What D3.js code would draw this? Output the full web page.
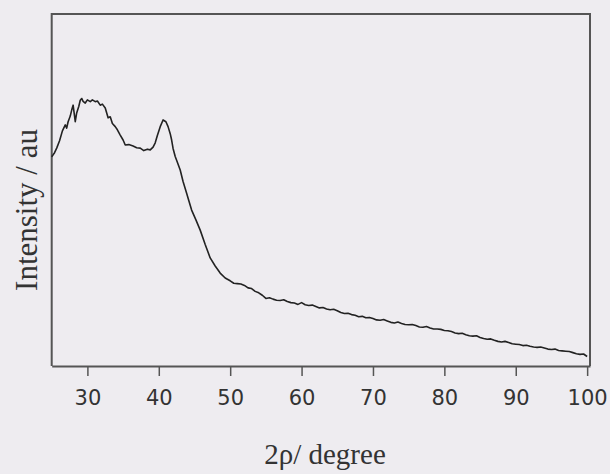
<!DOCTYPE html>
<html><head><meta charset="utf-8">
<script src="https://cdn.jsdelivr.net/npm/d3@7"></script>
<style>
html,body{margin:0;padding:0;background:#eeecf0;}
svg{display:block;}
</style></head>
<body>
<svg id="chart" width="610" height="474"></svg>
<script>
// 2θ (degree) values and intensity (arbitrary units)
const twoTheta = [25.0,25.4,25.7,26.1,26.5,26.9,27.1,27.3,27.6,27.8,28.0,28.3,28.5,28.8,29.0,29.2,29.4,29.7,30.0,30.4,30.7,31.1,31.4,31.8,32.1,32.5,32.9,33.2,33.5,33.9,34.2,34.6,35.0,35.3,35.8,36.4,36.9,37.4,37.9,38.4,38.8,39.2,39.5,39.8,40.2,40.6,41.0,41.3,41.6,41.8,42.0,42.3,42.6,43.0,43.4,43.9,44.2,44.6,45.2,45.8,46.5,47.2,47.9,48.6,49.3,
  50,50.5,51,51.5,52,52.5,53,53.5,54,54.5,55,55.5,56,56.5,57,57.5,58,58.5,59,59.5,60,60.5,61,61.5,62,62.5,63,63.5,64,64.5,65,65.5,66,66.5,67,67.5,68,68.5,69,69.5,70,70.5,71,71.5,72,72.5,73,73.5,74,74.5,75,75.5,76,76.5,77,77.5,78,78.5,79,79.5,80,80.5,81,81.5,82,82.5,83,83.5,84,84.5,85,85.5,86,86.5,87,87.5,88,88.5,89,89.5,90,90.5,91,91.5,92,92.5,93,93.5,94,94.5,95,95.5,96,96.5,97,97.5,98,98.5,99,99.5,100];
const intensity = [59.4,60.6,61.9,64.0,66.8,68.5,67.6,69.4,71.0,72.7,74.1,69.4,71.9,73.8,75.5,76.0,75.2,74.7,75.6,75.1,75.6,75.1,75.3,74.1,74.4,73.3,70.5,70.8,68.9,68.0,67.1,65.6,64.2,62.8,62.9,62.5,62.0,61.9,61.2,61.6,61.4,62.2,63.4,65.5,68.0,69.9,69.4,68.0,66.0,64.2,61.8,59.5,57.9,55.7,52.4,49.1,47.0,44.3,41.5,38.6,34.5,30.7,28.4,26.4,25.0,
  24.2,23.5,23.4,23.3,22.9,22.2,22.0,21.2,20.8,20.1,19.2,19.4,19.0,18.7,18.6,18.8,18.3,18.0,17.9,17.5,18.0,17.4,17.2,17.3,16.9,16.5,16.6,16.2,16.0,16.1,15.7,15.2,14.9,15.0,14.6,14.4,14.0,14.1,13.7,13.8,13.5,13.1,13.0,13.2,12.8,12.4,12.2,12.5,12.1,11.8,11.7,11.8,11.5,11.1,11.0,11.2,10.8,10.5,10.5,10.4,10.1,10.0,9.8,9.4,9.2,9.3,8.9,8.6,8.5,8.6,8.1,7.8,7.6,7.7,7.3,7.0,6.8,7.0,6.7,6.3,6.2,6.1,5.8,5.9,5.6,5.4,5.3,5.4,5.1,4.8,4.7,4.8,4.4,4.3,4.2,4.1,3.8,3.5,3.3,3.4,2.7];
const xTicks = [30,40,50,60,70,80,90,100];
const xLabel = "2ρ/ degree";
const yLabel = "Intensity / au";

const svg = d3.select("#chart");
const L = 51.7, R = 590, T = 14, B = 366;
const x = d3.scaleLinear().domain([25, 100.4]).range([L, R]);
const y = d3.scaleLinear().domain([0, 100]).range([B, T]);

const data = twoTheta.map((d,i)=>({x:d, y:intensity[i]}));

// frame
svg.append("path")
  .attr("d", `M${L},${B}V${T}H${R}V${B}`)
  .attr("fill","none").attr("stroke","#555").attr("stroke-width",2);

// line
svg.append("path").datum(data)
  .attr("fill","none").attr("stroke","#222").attr("stroke-width",1.6)
  .attr("stroke-linejoin","round")
  .attr("d", d3.line().x(d=>x(d.x)).y(d=>y(d.y)));

// x axis
const ax = svg.append("g").attr("transform",`translate(0,${B})`)
  .call(d3.axisBottom(x).tickValues(xTicks).tickSize(10).tickPadding(14).tickSizeOuter(0));
ax.select(".domain").attr("stroke","#555").attr("stroke-width",2.2);
ax.selectAll(".tick line").attr("stroke","#555").attr("stroke-width",1.5);
ax.selectAll(".tick text").attr("fill","#333")
  .style("font-family","'DejaVu Sans', sans-serif").style("font-size","21px");

svg.append("text").attr("x",325).attr("y",464).attr("text-anchor","middle")
  .style("font-family","'Liberation Serif', serif").style("font-size","29px").attr("fill","#333")
  .text(xLabel);
svg.append("text").attr("transform","translate(37,210) rotate(-90)").attr("text-anchor","middle")
  .style("font-family","'Liberation Serif', serif").style("font-size","31px").attr("fill","#333")
  .text(yLabel);
</script>
</body></html>
